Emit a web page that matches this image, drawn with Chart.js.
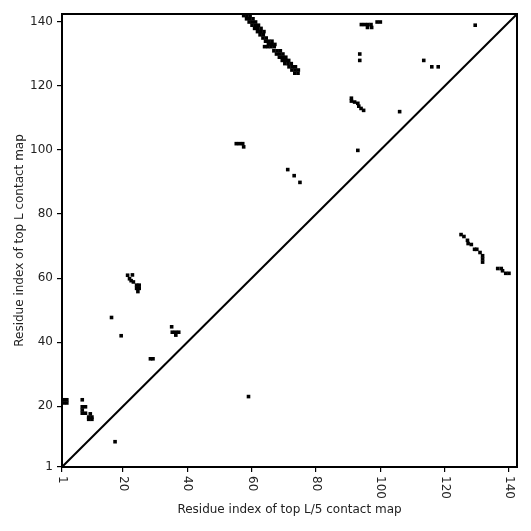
<!DOCTYPE html>
<html>
<head>
<meta charset="utf-8">
<script src="https://cdn.jsdelivr.net/npm/chart.js@4.4.1/dist/chart.umd.min.js"></script>
<style>
  html, body { margin: 0; padding: 0; background: #fff; }
  #wrap { width: 531px; height: 531px; }
</style>
</head>
<body>
<div id="wrap"><canvas id="contactChart" width="531" height="531"></canvas></div>
<script>
// Ticks on both axes
const tickValues = [1, 20, 40, 60, 80, 100, 120, 140];
const axisMin = 1;
const axisMax = 142.5;

// Contact cells (residue i, residue j)
const contactsX = [
    // lower left
    1.5, 2.5, 1.5, 2.5, 7.3,
    7.3, 8.3, 7.3, 7.3, 8.3, 9.8, 9.3, 10.3, 9.3, 10.3,
    17.5, 59,
    21.4, 22.9, 22, 22.5, 23.2, 24.2, 25, 24.2, 25, 24.6,
    16.4, 19.4,
    35.1, 35.3, 36.3, 37.3, 36.4,
    28.5, 29.3,
    55.2, 56.2, 57.2, 57.5,
    71.2, 73.2, 75,
    // top strand
    57.5, 58.5, 59.5, 58.4, 59.4, 60.4, 59.2, 60.2, 61.2,
    60.1, 61.1, 62.1, 60.9, 61.9, 62.9, 61.8, 62.8, 63.8,
    62.6, 63.6, 63.5, 64.5, 64.3, 65.3, 66.3, 65.2, 66.2, 67.2,
    64, 65, 66, 67,
    66.9, 67.9, 68.9, 67.7, 68.7, 69.7, 68.6, 69.6, 70.6,
    69.5, 70.5, 71.5, 70.3, 71.3, 72.3, 71.6, 72.6, 73.6,
    72.5, 73.5, 74.5, 73.4, 74.4,
    // top middle
    94.1, 95.1, 96.1, 97.1, 96, 97.3, 99, 100,
    129.5, 93.6, 93.6, 113.5, 116, 118,
    91, 91, 92, 93, 93.3, 94, 94.8,
    106, 93,
    // right
    125.1, 126, 127.1, 127.3, 128.3, 129.3, 130, 131, 131.8, 131.8, 131.8,
    136.5, 137.6, 138, 139, 140
];
const contactsY = [
    21, 21, 22, 22, 22,
    19.8, 19.8, 18.8, 17.8, 17.8, 17.6, 16.6, 16.6, 15.9, 15.9,
    8.9, 23,
    60.9, 61, 59.8, 59.2, 58.8, 57.8, 57.8, 56.8, 56.8, 55.8,
    47.7, 42,
    44.8, 43.1, 43.1, 43.1, 42.2,
    34.8, 34.8,
    102, 102, 102, 101,
    93.9, 92, 89.9,
    142, 142, 142, 141, 141, 141, 140, 140, 140,
    139, 139, 139, 138, 138, 138, 137, 137, 137,
    136, 136, 135, 135, 134, 134, 134, 133, 133, 133,
    132.3, 132.3, 132.3, 132.3,
    131, 131, 131, 130, 130, 130, 129, 129, 129,
    128, 128, 128, 127, 127, 127, 126, 126, 126,
    125, 125, 125, 124, 124,
    139.2, 139.2, 139.2, 139.2, 138.3, 138.3, 140, 140,
    139, 130, 128, 128, 126, 126,
    116.2, 115.3, 115, 114.6, 113.7, 113, 112.4,
    112, 99.9,
    73.6, 73, 71.8, 70.8, 70.5, 69, 69, 68, 67, 66, 65,
    63, 63, 62.3, 61.5, 61.5
];

const xTitle = 'Residue index of top L/5 contact map';
const yTitle = 'Residue index of top L contact map';

const FONT = '12px "DejaVu Sans"';

// Frame, rotated x tick labels and axis titles
const framePlugin = {
    id: 'frame',
    afterDraw(chart) {
        const { ctx, chartArea: a, scales } = chart;
        ctx.save();
        ctx.strokeStyle = '#000';
        ctx.lineWidth = 2;
        ctx.strokeRect(a.left, a.top, a.right - a.left, a.bottom - a.top);

        ctx.fillStyle = '#222';
        ctx.font = FONT;
        // x tick labels, turned clockwise
        tickValues.forEach(v => {
            const x = scales.x.getPixelForValue(v);
            ctx.save();
            ctx.translate(x, a.bottom + 9);
            ctx.rotate(Math.PI / 2);
            ctx.textAlign = 'left';
            ctx.textBaseline = 'middle';
            ctx.fillText(String(v), 0, 0);
            ctx.restore();
        });

        ctx.textAlign = 'center';
        ctx.textBaseline = 'middle';
        ctx.fillText(xTitle, (a.left + a.right) / 2, 510);

        ctx.save();
        ctx.translate(20, (a.top + a.bottom) / 2);
        ctx.rotate(-Math.PI / 2);
        ctx.fillText(yTitle, 0, 0);
        ctx.restore();
        ctx.restore();
    }
};

const contactPoints = contactsX.map((x, i) => ({ x: x, y: contactsY[i] }));

new Chart(document.getElementById('contactChart'), {
    type: 'scatter',
    data: {
        datasets: [
            {
                label: 'contacts',
                data: contactPoints,
                pointStyle: 'rect',
                pointRadius: 2.55,
                pointHoverRadius: 2.55,
                backgroundColor: '#000',
                borderWidth: 0
            },
            {
                label: 'diagonal',
                data: [{ x: axisMin, y: axisMin }, { x: axisMax, y: axisMax }],
                showLine: true,
                borderColor: '#000',
                borderWidth: 2,
                pointRadius: 0
            }
        ]
    },
    options: {
        responsive: false,
        animation: false,
        devicePixelRatio: 1,
        layout: { padding: { top: 14, right: 14, left: 0, bottom: 0 } },
        plugins: {
            legend: { display: false },
            tooltip: { enabled: false }
        },
        scales: {
            x: {
                type: 'linear',
                min: axisMin,
                max: axisMax,
                afterBuildTicks: s => { s.ticks = tickValues.map(v => ({ value: v })); },
                afterFit: s => { s.height = 64; },
                border: { display: false },
                grid: { drawOnChartArea: false, drawTicks: true, tickLength: 5, color: '#000', lineWidth: 1.2 },
                ticks: { display: false }
            },
            y: {
                type: 'linear',
                min: axisMin,
                max: axisMax,
                afterBuildTicks: s => { s.ticks = tickValues.map(v => ({ value: v })); },
                afterFit: s => { s.width = 62; },
                border: { display: false },
                grid: { drawOnChartArea: false, drawTicks: true, tickLength: 5, color: '#000', lineWidth: 1.2 },
                ticks: { color: '#222', font: { family: 'DejaVu Sans', size: 12 }, padding: 4 }
            }
        }
    },
    plugins: [framePlugin]
});
</script>
</body>
</html>
